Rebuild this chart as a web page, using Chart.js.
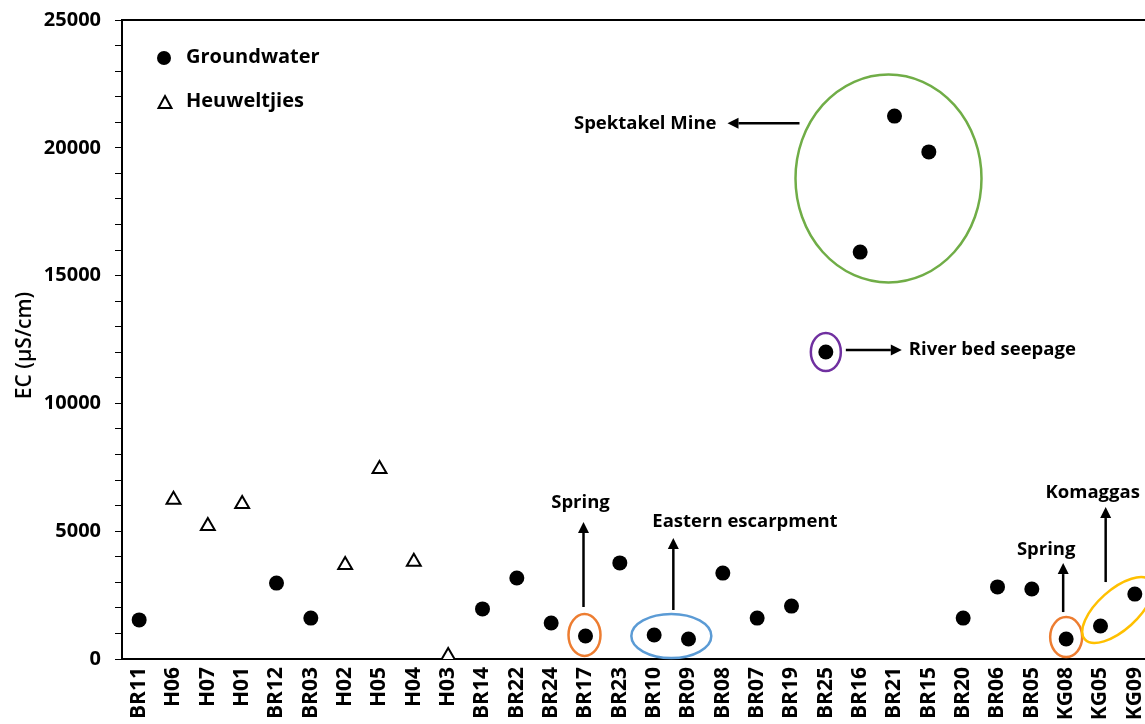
<!DOCTYPE html>
<html>
<head>
<meta charset="utf-8">
<script src="https://cdn.jsdelivr.net/npm/chart.js@4.4.1/dist/chart.umd.min.js"></script>
<style>
  html, body { margin: 0; padding: 0; background: #fff; overflow: hidden; }
  #wrap { width: 1153px; height: 724px; }
</style>
</head>
<body>
<div id="wrap"><canvas id="ec"></canvas></div>
<script>
// sample sites along the x axis
var sites = ["BR11", "H06", "H07", "H01", "BR12", "BR03", "H02", "H05", "H04", "H03",
    "BR14", "BR22", "BR24", "BR17", "BR23", "BR10", "BR09", "BR08", "BR07", "BR19",
    "BR25", "BR16", "BR21", "BR15", "BR20", "BR06", "BR05", "KG08", "KG05", "KG09"];

// EC in uS/cm
var groundwater = [1530, null, null, null, 2970, 1600, null, null, null, null,
    1960, 3170, 1410, 900, 3760, 940, 780, 3360, 1600, 2070,
    12010, 15920, 21240, 19840, 1600, 2820, 2740, 780, 1290, 2540];
var heuweltjies = [null, 6230, 5200, 6060, null, null, 3680, 7430, 3800, 120,
    null, null, null, null, null, null, null, null, null, null,
    null, null, null, null, null, null, null, null, null, null];

var yTicks = [0, 5000, 10000, 15000, 20000, 25000];

const FONT = "'Open Sans'";

function arrow(ctx, x1, y1, x2, y2) {
    const a = Math.atan2(y2 - y1, x2 - x1);
    const hl = 11, hw = 5.5;
    const bx = x2 - Math.cos(a) * hl, by = y2 - Math.sin(a) * hl;
    ctx.beginPath();
    ctx.moveTo(x1, y1);
    ctx.lineTo(bx, by);
    ctx.stroke();
    ctx.beginPath();
    ctx.moveTo(x2, y2);
    ctx.lineTo(bx + Math.sin(a) * hw, by - Math.cos(a) * hw);
    ctx.lineTo(bx - Math.sin(a) * hw, by + Math.cos(a) * hw);
    ctx.closePath();
    ctx.fill();
}

function ring(ctx, cx, cy, rx, ry, rot, color) {
    ctx.save();
    ctx.strokeStyle = color;
    ctx.lineWidth = 2.5;
    ctx.beginPath();
    ctx.ellipse(cx, cy, rx, ry, rot, 0, Math.PI * 2);
    ctx.stroke();
    ctx.restore();
}

const notes = {
    id: "notes",
    afterDatasetsDraw(chart) {
        const ctx = chart.ctx;
        const xs = chart.scales.x, ys = chart.scales.y;
        const X = i => xs.getPixelForValue(i);
        const Y = v => ys.getPixelForValue(v);
        const area = chart.chartArea;

        ctx.save();
        // top frame line
        ctx.strokeStyle = "#000";
        ctx.lineWidth = 2;
        ctx.beginPath();
        ctx.moveTo(area.left, area.top);
        ctx.lineTo(area.right, area.top);
        ctx.stroke();

        // legend
        ctx.fillStyle = "#000";
        ctx.beginPath();
        ctx.arc(area.left + 42, area.top + 38, 7, 0, Math.PI * 2);
        ctx.fill();
        ctx.lineWidth = 2;
        ctx.beginPath();
        ctx.moveTo(area.left + 43, area.top + 76);
        ctx.lineTo(area.left + 49.5, area.top + 88);
        ctx.lineTo(area.left + 36.5, area.top + 88);
        ctx.closePath();
        ctx.stroke();
        ctx.font = "bold 20px " + FONT;
        ctx.textBaseline = "middle";
        ctx.textAlign = "left";
        ctx.fillText("Groundwater", area.left + 64, area.top + 37);
        ctx.fillText("Heuweltjies", area.left + 64, area.top + 81);

        // y axis title
        ctx.save();
        ctx.translate(25, (area.top + area.bottom) / 2 + 6);
        ctx.rotate(-Math.PI / 2);
        ctx.textAlign = "center";
        ctx.font = "600 21px " + FONT;
        ctx.fillText("EC (µS/cm)", 0, 0);
        ctx.restore();

        // callouts
        ctx.strokeStyle = "#000";
        ctx.fillStyle = "#000";
        ctx.lineWidth = 2.5;
        ctx.font = "bold 18.5px " + FONT;

        // Spektakel Mine
        ring(ctx, X(22) - 6, Y(18800), 93, 104, 0, "#70AD47");
        arrow(ctx, X(22) - 95, Y(20960), X(22) - 167, Y(20960));
        ctx.textAlign = "right";
        ctx.fillText("Spektakel Mine", X(22) - 178, Y(20960));

        // River bed seepage
        ring(ctx, X(20), Y(12010), 15, 19, 0, "#7030A0");
        arrow(ctx, X(20) + 20, Y(12010) - 2, X(20) + 76, Y(12010) - 2);
        ctx.textAlign = "left";
        ctx.fillText("River bed seepage", X(20) + 83, Y(12010) - 2);

        // Spring (BR17)
        ring(ctx, X(13) - 1, Y(900) - 1, 16, 21, 0, "#ED7D31");
        arrow(ctx, X(13) - 2, Y(900) - 29, X(13) - 2, Y(900) - 114);
        ctx.textAlign = "center";
        ctx.fillText("Spring", X(13) - 5, Y(900) - 133);

        // Eastern escarpment
        const ex = (X(15) + X(16)) / 2;
        ring(ctx, ex, Y(860) - 1, 40, 22, 0, "#5B9BD5");
        arrow(ctx, ex + 2, Y(860) - 27, ex + 2, Y(860) - 99);
        ctx.textAlign = "left";
        ctx.fillText("Eastern escarpment", ex - 19, Y(860) - 115);

        // Spring (KG08)
        ring(ctx, X(27), Y(780) - 2, 16, 20, 0, "#ED7D31");
        arrow(ctx, X(27) - 3, Y(780) - 27, X(27) - 3, Y(780) - 76);
        ctx.textAlign = "center";
        ctx.fillText("Spring", X(27) - 20, Y(780) - 89);

        // Komaggas
        const kx = (X(28) + X(29)) / 2, ky = (Y(1290) + Y(2540)) / 2;
        ring(ctx, kx, ky, 44, 20, -0.73, "#FFC000");
        arrow(ctx, kx - 12, ky - 28, kx - 12, ky - 103);
        ctx.textAlign = "center";
        ctx.fillText("Komaggas", kx - 25, ky - 117);
        ctx.restore();
    }
};

new Chart(document.getElementById("ec"), {
    type: "line",
    data: {
        labels: sites,
        datasets: [{
            label: "Groundwater",
            data: groundwater,
            showLine: false,
            pointStyle: "circle",
            pointRadius: 7.5,
            pointBackgroundColor: "#000",
            pointBorderColor: "#000",
            pointBorderWidth: 0
        }, {
            label: "Heuweltjies",
            data: heuweltjies,
            showLine: false,
            pointStyle: "triangle",
            pointRadius: 8,
            pointBackgroundColor: "#fff",
            pointBorderColor: "#000",
            pointBorderWidth: 2
        }]
    },
    options: {
        responsive: true,
        maintainAspectRatio: false,
        animation: false,
        layout: { autoPadding: false, padding: { top: 20, right: 1, left: 0, bottom: 0 } },
        plugins: {
            legend: { display: false },
            tooltip: { enabled: false }
        },
        scales: {
            x: {
                offset: true,
                grid: { display: false, drawTicks: false },
                border: { display: true, color: "#000", width: 2 },
                ticks: {
                    color: "#000",
                    font: { family: FONT, size: 21, weight: "bold" },
                    minRotation: 90,
                    maxRotation: 90,
                    autoSkip: false,
                    padding: 8
                },
                afterFit: s => { s.height = 65; s.paddingLeft = 0; s.paddingRight = 0; }
            },
            y: {
                min: 0,
                max: 25000,
                ticks: {
                    stepSize: 1000,
                    autoSkip: false,
                    color: "#000",
                    font: { family: FONT, size: 20, weight: "bold" },
                    padding: 14,
                    callback: v => yTicks.includes(v) ? v : ""
                },
                grid: { drawOnChartArea: false, drawTicks: true, tickLength: 7, color: "#000", lineWidth: 1 },
                border: { display: true, color: "#000", width: 2 },
                afterFit: s => { s.width = 122; s.paddingTop = 0; s.paddingBottom = 0; }
            }
        }
    },
    plugins: [notes]
});
</script>
</body>
</html>
